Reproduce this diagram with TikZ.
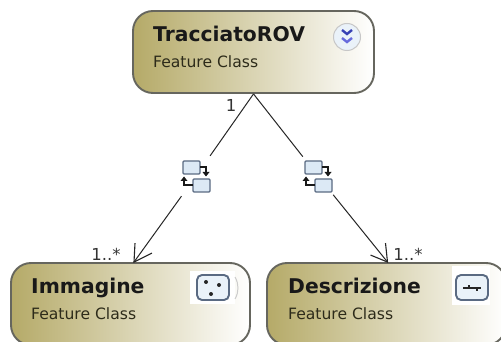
\documentclass[tikz,border=0pt]{standalone}
\usepackage{fontspec}
\setmainfont{DejaVu Sans}
\usetikzlibrary{arrows.meta}
\definecolor{olive}{HTML}{B5AA68}
\definecolor{edgeg}{HTML}{66665E}
\definecolor{iconb}{HTML}{5A6A82}
\definecolor{iconf}{HTML}{DCE9F5}
\tikzset{
  classbox/.style={draw=edgeg,line width=1.9pt,rounded corners=20pt,minimum height=82pt,inner sep=0pt,
    left color=olive,right color=white,middle color=olive!50!white,shading angle=90},
  titletext/.style={anchor=base west,inner sep=0pt,font=\fontsize{20.3}{24}\selectfont\bfseries,text=black!90},
  subtext/.style={anchor=base west,inner sep=0pt,font=\fontsize{15.6}{18}\selectfont,text=black!75!olive},
  multi/.style={inner sep=0pt,font=\fontsize{16.5}{18}\selectfont,text=black!80},
  relspot/.style={minimum width=30pt,minimum height=40pt,inner sep=0pt},
  link/.style={draw=black!85,line width=1pt},
  smallwin/.style={draw=iconb,fill=iconf,line width=1.4pt,rounded corners=1pt},
  glyph/.style={draw=iconb,fill=iconf!60!white,line width=1.9pt,rounded corners=5pt},
  relicon/.pic={
    \draw[smallwin] (-13,-15) rectangle (4,-2);
    \draw[smallwin] (-3,3) rectangle (14,16);
    \draw[black!90,line width=1.6pt] (4,-9) -- (10,-9) -- (10,-3);
    \fill[black!90] (6.5,-4) -- (13.5,-4) -- (10,0.5) -- cycle;
    \draw[black!90,line width=1.6pt] (-3,9) -- (-12,9) -- (-12,4);
    \fill[black!90] (-15.5,5) -- (-8.5,5) -- (-12,0.5) -- cycle;
  }
}
\begin{document}
\begin{tikzpicture}[x=1pt,y=-1pt]
\useasboundingbox (0,0) rectangle (501,342);
\clip (0,0) rectangle (501,342);
\fill[white] (0,0) rectangle (501,342);
% boxes
\node[classbox,minimum width=241pt] (traccia) at (253.5,52) {};
\node[classbox,minimum width=239pt] (imm) at (130.5,304) {};
\node[classbox,minimum width=239pt] (descr) at (386.5,304) {};
% relation spots
\node[relspot] (relL) at (196,176) {};
\node[relspot] (relR) at (318,176) {};
\pic at (196,176) {relicon};
\pic at (318,176) {relicon};
\coordinate (tipL) at ([xshift=3.5pt]imm.north);
\coordinate (tipR) at ([xshift=1pt]descr.north);
% connectors
\draw[link] (traccia.south) -- (relL);
\draw[link] (traccia.south) -- (relR);
\draw[link] (relL) -- (tipL);
\draw[link] (relR) -- (tipR);
\draw[link,line width=1.1pt] (tipL) ++(1,-19) -- (tipL) -- ++(18,-9);
\draw[link,line width=1.1pt] (tipR) ++(-2,-19) -- (tipR) -- ++(-17,-7);
% texts
\node[titletext] (t1) at (153,42) {TracciatoROV};
\node[subtext] (s1) at (153,68) {Feature Class};
\node[titletext] (t2) at (31,293) {Immagine};
\node[subtext] (s2) at (31,319) {Feature Class};
\node[titletext] (t3) at (288,293) {Descrizione};
\node[subtext] (s3) at (288,319) {Feature Class};
\node[multi] (m0) at (231,105) {1};
\node[multi] (m1) at (106,254) {1..*};
\node[multi] (m2) at (408,254) {1..*};
% chevron button
\node[circle,draw=black!22,fill=iconf!60!white,line width=1pt,minimum size=27pt,inner sep=0pt] (chev) at (347,37) {};
\draw[draw=iconb!60!blue,line width=2.4pt] (342,30) -- (347,34) -- (352,30);
\draw[draw=iconb!40!blue!70!white,line width=2.4pt] (342,38) -- (347,42) -- (352,38);
% Immagine glyph
\fill[white] (190,271) rectangle (235,304);
\draw[glyph] (197,275) rectangle (229,300);
\fill[black!85] (206,282) circle (2);
\fill[black!85] (219,285) circle (2);
\fill[black!85] (211,294) circle (2);
\draw[black!20,line width=1pt] (235,277) .. controls (239,284) and (239,292) .. (235,299);
% Descrizione glyph
\fill[white] (452,266) rectangle (490,305);
\draw[glyph] (456,275) rectangle (488,300);
\draw[black!85,line width=1.5pt] (463,288) -- (481,288);
\draw[black!85,line width=1.5pt] (469,285) -- (469,288) (477,288) -- (477,291);
\end{tikzpicture}
\end{document}
